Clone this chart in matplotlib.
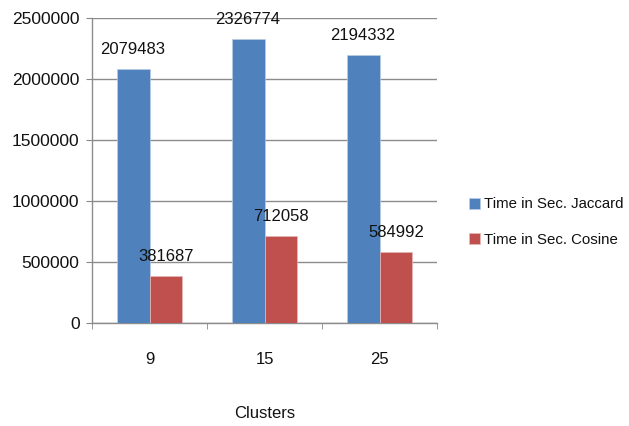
import matplotlib
matplotlib.use("Agg")
import matplotlib.pyplot as plt
import numpy as np

clusters = ["9", "15", "25"]
jaccard = [2079483, 2326774, 2194332]
cosine = [381687, 712058, 584992]
series_names = ["Time in Sec. Jaccard", "Time in Sec. Cosine"]
yticks = [0, 500000, 1000000, 1500000, 2000000, 2500000]

plt.rcParams["font.family"] = ["Liberation Sans", "DejaVu Sans"]

fig = plt.figure(figsize=(6.29, 4.26), dpi=100)
ax = fig.add_axes([0.1463, 0.2418, 0.5485, 0.7159])

x = np.arange(len(clusters))
w = 1 / 3.5
blue = "#4F81BD"
red = "#C0504D"
b1 = ax.bar(x - w / 2, jaccard, w, color=blue, edgecolor="#b9cde5", linewidth=0.5, zorder=3,
            label=series_names[0])
b2 = ax.bar(x + w / 2, cosine, w, color=red, edgecolor="#e6b9b8", linewidth=0.5, zorder=3,
            label=series_names[1])

for bars, vals in ((b1, jaccard), (b2, cosine)):
    for rect, v in zip(bars, vals):
        ax.annotate(f"{v}", (rect.get_x() + rect.get_width() / 2, v),
                    xytext=(0, 14), textcoords="offset points", ha="center", va="center",
                    fontsize=12, color="#111111", zorder=4)

ax.set_xlim(-0.5, 2.5)
ax.set_ylim(0, 2500000)
ax.set_yticks(yticks)
ax.set_yticklabels([str(t) for t in yticks], fontsize=12.5, color="#111111")
ax.set_xticks(x)
ax.set_xticklabels(clusters, fontsize=12, color="#111111")
ax.tick_params(axis="x", which="major", length=0, pad=21)
ax.set_xticks([-0.5, 0.5, 1.5, 2.5], minor=True)
ax.tick_params(axis="x", which="minor", length=4, color="#888888", direction="out")
ax.tick_params(axis="y", length=4, color="#888888", direction="out", pad=5)

ax.grid(axis="y", color="#8c8c8c", linewidth=1, zorder=0)
for s in ("top", "right"):
    ax.spines[s].set_visible(False)
for s in ("left", "bottom"):
    ax.spines[s].set_color("#8c8c8c")
    ax.spines[s].set_linewidth(1)

fig.text(265 / 629, 1 - 413 / 426, "Clusters", ha="center", va="center", fontsize=12, color="#111111")

leg = fig.legend(handles=[b1, b2], labels=series_names, loc="center left",
                 bbox_to_anchor=(455 / 629, 1 - 222 / 426), frameon=False, fontsize=10.8,
                 handlelength=0.75, handleheight=0.75, handletextpad=0.3, labelspacing=1.4)
for t in leg.get_texts():
    t.set_color("#111111")

fig.savefig("out.png", dpi=100)
